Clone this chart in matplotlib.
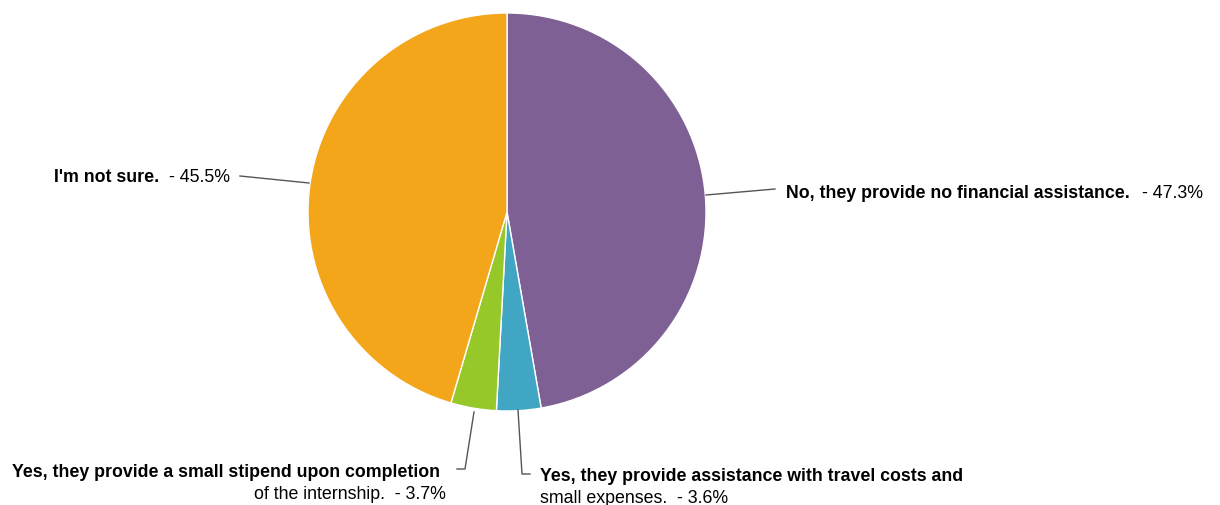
import matplotlib.pyplot as plt

# slices, clockwise from 12 o'clock
labels = [
    "No, they provide no financial assistance.",
    "Yes, they provide assistance with travel costs and small expenses.",
    "Yes, they provide a small stipend upon completion of the internship.",
    "I'm not sure.",
]
shares = [47.3, 3.6, 3.7, 45.5]
colors = ["#7E6094", "#41A5C4", "#97C82A", "#F4A61B"]

FONT = "Liberation Sans"
FS = 12.8

fig = plt.figure(figsize=(12.2, 5.06), dpi=100)
ax = fig.add_axes([0, 0, 1, 1])

# axes in pixel units, y pointing down -> mirror the pie direction
cx, cy, r = 507, 213, 199
ax.pie(shares, colors=colors, startangle=-90, counterclock=True,
       center=(cx, cy), radius=r, frame=True,
       wedgeprops=dict(edgecolor="white", linewidth=1))
ax.set_xlim(0, 1220)
ax.set_ylim(506, 0)
ax.set_aspect("equal")
ax.axis("off")


def pct(v):
    return "- %.1f%%" % v


lc = "#555555"
# purple
ax.plot([706, 775], [196, 190], color=lc, lw=1)
t = ax.text(786, 193, labels[0], fontsize=FS, fontweight="bold", family=FONT,
            ha="left", va="center")
ax.annotate(pct(shares[0]), xy=(1, 0.5), xycoords=t, xytext=(9, 0),
            textcoords="offset points", fontsize=FS, family=FONT,
            ha="left", va="center")
# orange
ax.plot([309, 240], [184, 177], color=lc, lw=1)
t = ax.text(230, 177, pct(shares[3]), fontsize=FS, family=FONT,
            ha="right", va="center")
ax.annotate(labels[3], xy=(0, 0.5), xycoords=t, xytext=(-7, 0),
            textcoords="offset points", fontsize=FS, fontweight="bold",
            family=FONT, ha="right", va="center")
# green
ax.plot([474, 465, 457], [413, 470, 470], color=lc, lw=1)
ax.text(440, 473, "Yes, they provide a small stipend upon completion", fontsize=FS,
        fontweight="bold", family=FONT, ha="right", va="center")
ax.text(446, 495, "of the internship.  " + pct(shares[2]), fontsize=FS,
        family=FONT, ha="right", va="center")
# blue
ax.plot([518, 522, 530], [411, 475, 475], color=lc, lw=1)
ax.text(540, 477, "Yes, they provide assistance with travel costs and", fontsize=FS,
        fontweight="bold", family=FONT, ha="left", va="center")
ax.text(540, 499, "small expenses.  " + pct(shares[1]), fontsize=FS,
        family=FONT, ha="left", va="center")

fig.savefig("out.png", dpi=100)
